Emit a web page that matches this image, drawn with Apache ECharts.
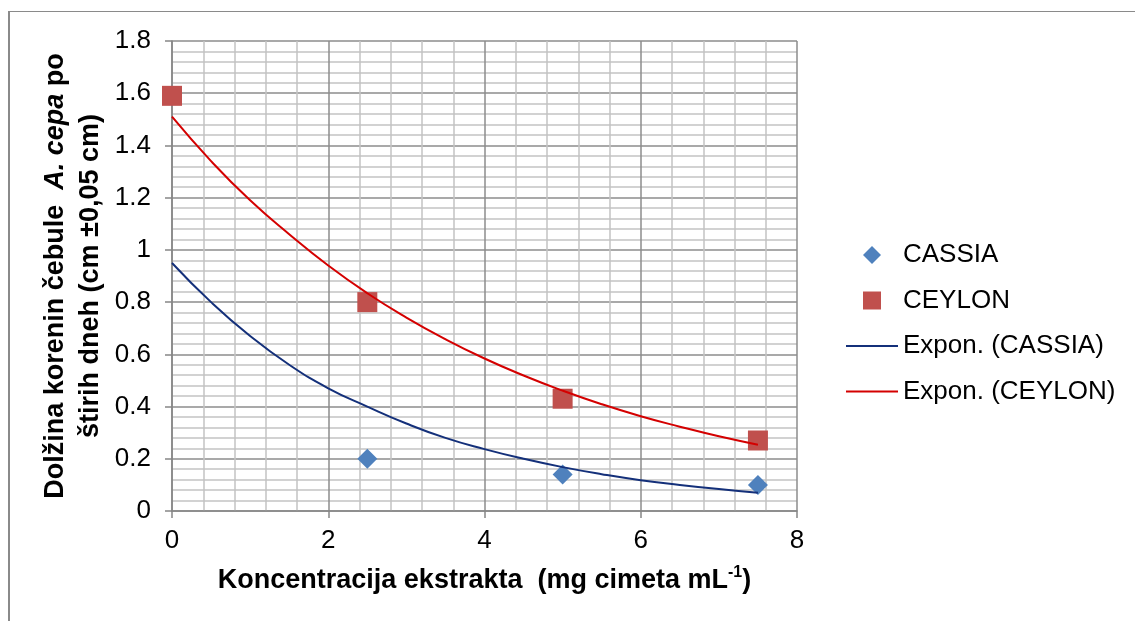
<!DOCTYPE html>
<html>
<head>
<meta charset="utf-8">
<script src="https://cdn.jsdelivr.net/npm/echarts@6/dist/echarts.min.js"></script>
<style>
  html, body { margin: 0; padding: 0; background: #fff; }
  #frame { position: absolute; left: 8px; top: 11px; width: 1300px; height: 800px;
           border-left: 2px solid #8a8a8a; border-top: 1px solid #8a8a8a; }
  #chart { position: absolute; left: 0; top: 0; width: 1135px; height: 621px; }
</style>
</head>
<body>
<div id="frame"></div>
<div id="chart"></div>
<script>
// izmerjene vrednosti
const concentrations = [0, 2.5, 5, 7.5];
const cassiaValues = [1.59, 0.20, 0.14, 0.10];   // prva točka je skrita pod CEYLON
const ceylonValues = [1.59, 0.80, 0.43, 0.27];

// trendne črte (odčitane s slike)
const trendX = [0, 0.5, 1, 1.5, 2, 2.5, 3, 3.5, 4, 4.5, 5, 5.5, 6, 6.5, 7, 7.5];
const cassiaTrend = [0.95, 0.80, 0.67, 0.56, 0.47, 0.40, 0.335, 0.28, 0.237, 0.20, 0.168, 0.141, 0.118, 0.10, 0.084, 0.07];
const ceylonTrend = [1.51, 1.34, 1.19, 1.06, 0.94, 0.834, 0.741, 0.658, 0.584, 0.519, 0.461, 0.409, 0.363, 0.323, 0.286, 0.254];

const xMin = 0, xMax = 8, xStep = 2;
const yMin = 0, yMax = 1.8, yStep = 0.2;

const pairs = (xs, ys) => xs.map((x, i) => [x, ys[i]]);

const font = 'Liberation Sans, Arial, sans-serif';
const chart = echarts.init(document.getElementById('chart'));

const axisCommon = {
  axisLine: { show: true, onZero: false, lineStyle: { color: '#868686', width: 1.5 } },
  axisTick: { show: true, length: 7, lineStyle: { color: '#868686', width: 1.5 } },
  splitLine: { show: true, lineStyle: { color: '#8c8c8c', width: 1.5 } },
  minorTick: { show: false, splitNumber: 5 },
  minorSplitLine: { show: true, lineStyle: { color: '#c3c3c3', width: 1.5 } },
  axisLabel: { color: '#000', fontSize: 26, fontFamily: font }
};

const option = {
  animation: false,
  textStyle: { fontFamily: font },
  grid: { left: 172, right: 338, top: 41, bottom: 110 },
  xAxis: Object.assign({}, axisCommon, {
    type: 'value', min: xMin, max: xMax, interval: xStep,
    axisLabel: Object.assign({}, axisCommon.axisLabel, { margin: 17 }),
    name: '{b|Koncentracija ekstrakta  (mg cimeta mL}{sup|-1}{b|)}',
    nameLocation: 'middle',
    nameGap: 54,
    nameTextStyle: {
      rich: {
        b: { fontSize: 27, fontWeight: 'bold', color: '#000', fontFamily: font, lineHeight: 32 },
        sup: { fontSize: 16, fontWeight: 'bold', color: '#000', fontFamily: font, lineHeight: 18, verticalAlign: 'top' }
      }
    }
  }),
  yAxis: Object.assign({}, axisCommon, {
    type: 'value', min: yMin, max: yMax, interval: yStep,
    axisLabel: Object.assign({}, axisCommon.axisLabel, { margin: 21 }),
    name: '{b|Dolžina korenin čebule  }{i|A. cepa}{b| po}\n{b|štirih dneh (cm ±0,05 cm)}',
    nameLocation: 'middle',
    nameGap: 62,
    nameTextStyle: {
      align: 'center',
      rich: {
        b: { fontSize: 27, fontWeight: 'bold', color: '#000', fontFamily: font, lineHeight: 35 },
        i: { fontSize: 27, fontWeight: 'bold', fontStyle: 'italic', color: '#000', fontFamily: font, lineHeight: 35 }
      }
    }
  }),
  legend: {
    orient: 'vertical',
    left: 841,
    top: 236,
    itemWidth: 52,
    itemHeight: 18,
    itemGap: 17.5,
    textStyle: { fontSize: 26, color: '#000', fontFamily: font, lineHeight: 28 },
    data: [
      { name: 'CASSIA', icon: 'path://M0 0M52 18M26 0L35 9L26 18L17 9Z' },
      { name: 'CEYLON', icon: 'path://M0 0M52 18M17 0L35 0L35 18L17 18Z' },
      { name: 'Expon. (CASSIA)', icon: 'path://M0 0M52 18M0 8L52 8L52 10L0 10Z' },
      { name: 'Expon. (CEYLON)', icon: 'path://M0 0M52 18M0 8L52 8L52 10L0 10Z' }
    ]
  },
  series: [
    {
      name: 'CASSIA', type: 'scatter', symbol: 'diamond', symbolSize: 20,
      itemStyle: { color: '#4F81BD', opacity: 1 }, z: 2,
      data: pairs(concentrations, cassiaValues)
    },
    {
      name: 'CEYLON', type: 'scatter', symbol: 'rect', symbolSize: 20,
      itemStyle: { color: '#C0504D', opacity: 1 }, z: 2,
      data: pairs(concentrations, ceylonValues)
    },
    {
      name: 'Expon. (CASSIA)', type: 'line', smooth: true, symbol: 'none', z: 3,
      lineStyle: { color: '#14307A', width: 2 }, itemStyle: { color: '#14307A' },
      data: pairs(trendX, cassiaTrend)
    },
    {
      name: 'Expon. (CEYLON)', type: 'line', smooth: true, symbol: 'none', z: 3,
      lineStyle: { color: '#D40000', width: 2 }, itemStyle: { color: '#D40000' },
      data: pairs(trendX, ceylonTrend)
    }
  ]
};

chart.setOption(option);
</script>
</body>
</html>
